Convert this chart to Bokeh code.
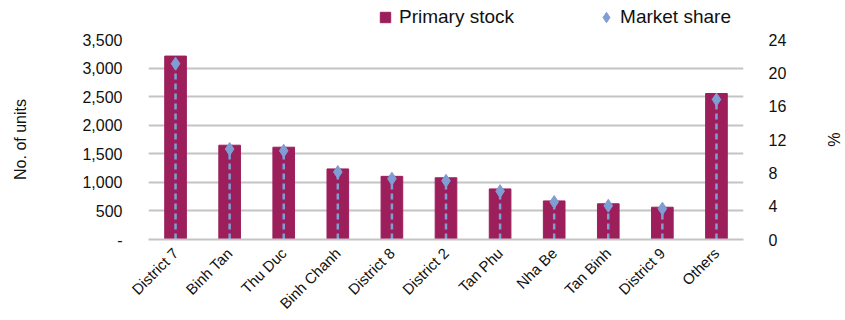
from bokeh.plotting import figure
from bokeh.models import Range1d, LinearAxis, FixedTicker, Legend, LegendItem, FactorRange
from bokeh.layouts import column
from bokeh.embed import file_html
from bokeh.resources import INLINE
import math

categories = ["District 7", "Binh Tan", "Thu Duc", "Binh Chanh", "District 8", "District 2",
              "Tan Phu", "Nha Be", "Tan Binh", "District 9", "Others"]
primary_stock = [3210, 1650, 1615, 1235, 1105, 1080, 885, 675, 625, 565, 2555]
market_share = [21.1, 10.85, 10.65, 8.1, 7.3, 7.05, 5.8, 4.5, 4.05, 3.7, 16.8]
left_ticks = [0, 500, 1000, 1500, 2000, 2500, 3000, 3500]
left_labels = ["-", "500", "1,000", "1,500", "2,000", "2,500", "3,000", "3,500"]
right_ticks = [0, 4, 8, 12, 16, 20, 24]
series_names = ["Primary stock", "Market share"]

FONT = "Liberation Sans"
BAR = "#9C1F5C"
BLUE = "#7F9ED3"
TXT = "#111111"

# ---------- legend strip ----------
top = figure(width=845, height=30, output_backend="svg", toolbar_location=None,
             x_axis_type=None, y_axis_type=None, x_range=Range1d(0, 1), y_range=Range1d(0, 1),
             min_border=0)
top.outline_line_color = None
top.grid.grid_line_color = None
# off-range sample glyphs, only used to draw the legend keys
lb = top.scatter(x=[-10], y=[-10], marker="square", size=12, fill_color=BAR, line_color=BAR)
ls = top.scatter(x=[-10], y=[-10], marker="diamond", size=13, fill_color=BLUE, line_color=BLUE)
legend = Legend(items=[LegendItem(label=series_names[0], renderers=[lb], index=0),
                       LegendItem(label=series_names[1], renderers=[ls], index=0)],
                orientation="horizontal", location=(224, 0),
                border_line_color=None, background_fill_alpha=0,
                label_text_font=FONT, label_text_font_size="19px", label_text_color=TXT,
                glyph_width=26, glyph_height=26, spacing=79, padding=0, margin=0,
                label_standoff=1)
top.add_layout(legend, "center")

# ---------- main chart ----------
p = figure(width=845, height=290, x_range=FactorRange(*categories, range_padding=0.0),
           y_range=Range1d(0, 3500), output_backend="svg", toolbar_location=None,
           min_border_left=148, min_border_right=82, min_border_top=9, min_border_bottom=78)
p.outline_line_color = None
p.background_fill_color = "white"
p.extra_y_ranges = {"pct": Range1d(0, 24)}

p.vbar(x=categories, top=primary_stock, width=0.4, fill_color=BAR, line_color=BAR)
p.segment(x0=categories, y0=[0] * len(categories), x1=categories, y1=market_share,
          y_range_name="pct", line_color=BLUE, line_width=2.5, line_dash="6 4")
p.scatter(x=categories, y=market_share, y_range_name="pct", marker="diamond",
          size=13, fill_color=BLUE, line_color=BLUE)

p.xgrid.grid_line_color = None
p.ygrid.ticker = FixedTicker(ticks=left_ticks)
p.ygrid.grid_line_color = "#C4C4C4"
p.ygrid.grid_line_width = 2

ax = p.yaxis[0]
ax.ticker = FixedTicker(ticks=left_ticks)
ax.major_label_overrides = {t: l for t, l in zip(left_ticks, left_labels)}
ax.axis_line_color = None
ax.major_tick_line_color = None
ax.minor_tick_line_color = None
ax.major_label_standoff = 20
ax.major_label_text_font = FONT
ax.major_label_text_font_size = "16px"
ax.major_label_text_color = TXT
ax.axis_label = "No. of units"
ax.axis_label_text_font = FONT
ax.axis_label_text_font_size = "16px"
ax.axis_label_text_font_style = "normal"
ax.axis_label_text_color = TXT
ax.axis_label_standoff = 50

rax = LinearAxis(y_range_name="pct", ticker=FixedTicker(ticks=right_ticks))
rax.axis_line_color = None
rax.major_tick_line_color = None
rax.minor_tick_line_color = None
rax.major_label_standoff = 19
rax.major_label_text_font = FONT
rax.major_label_text_font_size = "16px"
rax.major_label_text_color = TXT
rax.axis_label = "%"
rax.axis_label_text_font = FONT
rax.axis_label_text_font_size = "16px"
rax.axis_label_text_font_style = "normal"
rax.axis_label_text_color = TXT
rax.axis_label_standoff = 36
p.add_layout(rax, "right")

xa = p.xaxis[0]
xa.axis_line_color = "#C4C4C4"
xa.axis_line_width = 2
xa.major_tick_line_color = None
xa.minor_tick_line_color = None
xa.major_label_orientation = math.pi / 4
xa.major_label_standoff = 5
xa.major_label_text_font = FONT
xa.major_label_text_font_size = "15px"
xa.major_label_text_color = TXT

layout = column(top, p, spacing=0)
open("out.html", "w").write(file_html(layout, INLINE))
